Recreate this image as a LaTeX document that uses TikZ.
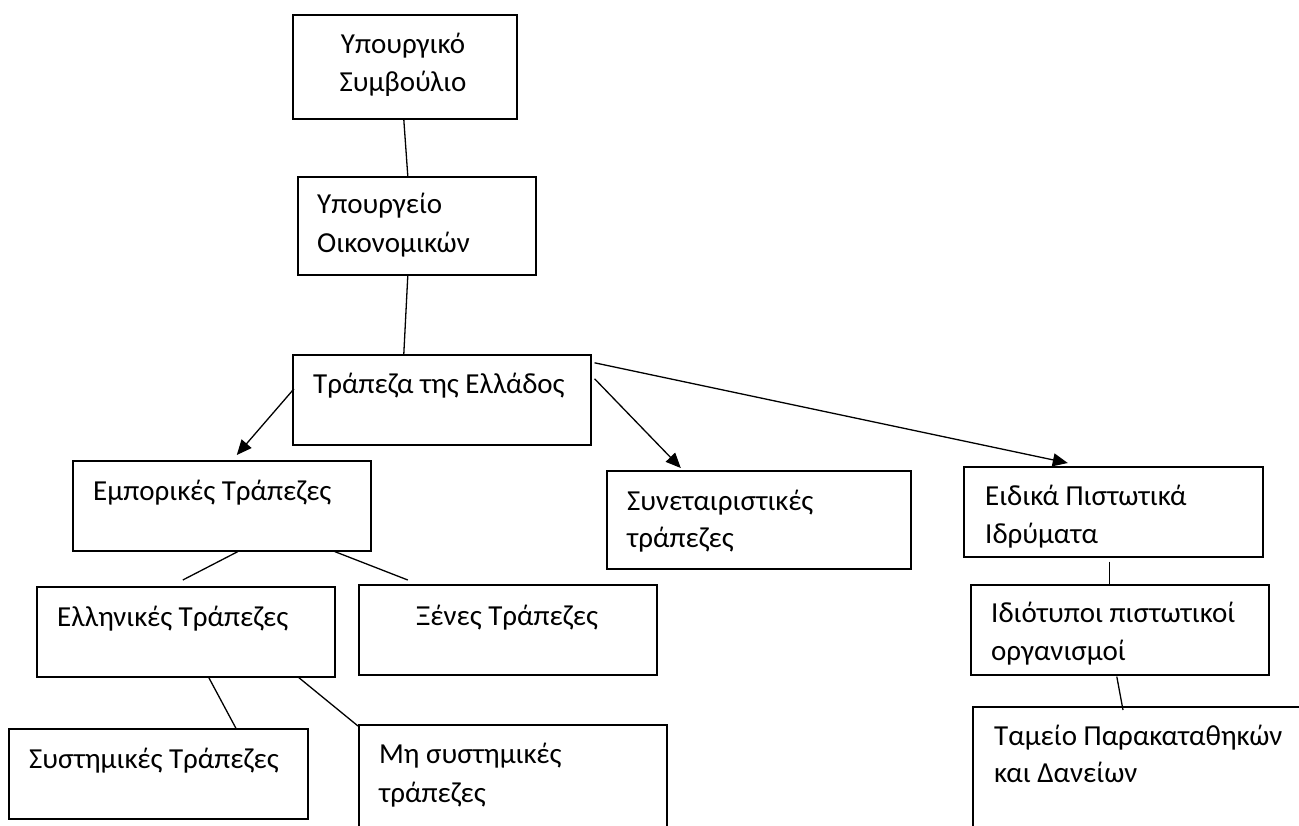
\documentclass[tikz,border=0pt]{standalone}
\usepackage{fontspec}
\setmainfont{Carlito}
\usetikzlibrary{calc,arrows.meta}
\begin{document}
\begin{tikzpicture}[x=1pt,y=-1pt,
  box/.style={draw=black,line width=1.6pt,fill=none,inner sep=0pt,anchor=north west},
  txt/.style={anchor=base west,inner sep=0pt,font=\fontsize{29}{38}\selectfont},
  ctxt/.style={anchor=base,inner sep=0pt,font=\fontsize{29}{38}\selectfont},
  link/.style={draw=black,line width=1.3pt},
  arr/.style={link,-{Triangle[length=15pt,width=13pt]}}]
\useasboundingbox (0,0) rectangle (1299,825);
\clip (0,0) rectangle (1299,825);
% boxes
\node[box,minimum width=224pt,minimum height=104pt] (b1) at (292,14) {};
\node[box,minimum width=238pt,minimum height=98pt] (b2) at (297,176) {};
\node[box,minimum width=298pt,minimum height=90pt] (b3) at (292,354) {};
\node[box,minimum width=298pt,minimum height=90pt] (b4) at (72,460) {};
\node[box,minimum width=298pt,minimum height=90pt] (b5) at (36,586) {};
\node[box,minimum width=298pt,minimum height=90pt] (b6) at (358,584) {};
\node[box,minimum width=299pt,minimum height=90pt] (b7) at (8,728) {};
\node[box,minimum width=308pt,minimum height=160pt] (b8) at (358,724) {};
\node[box,minimum width=304pt,minimum height=98pt] (b9) at (606,470) {};
\node[box,minimum width=299pt,minimum height=90pt] (b10) at (963,466) {};
\node[box,minimum width=298pt,minimum height=90pt] (b11) at (970,584) {};
\node[box,minimum width=360pt,minimum height=160pt] (b12) at (972,706) {};
% texts
\node[ctxt] (t1a) at (403,53) {Υπουργικό};
\node[ctxt] (t1b) at (403,91) {Συμβούλιο};
\node[txt] (t2a) at (317,213) {Υπουργείο};
\node[txt] (t2b) at (317,252) {Οικονομικών};
\node[txt] (t3) at (313,393) {Τράπεζα της Ελλάδος};
\node[txt] (t4) at (93,500) {Εμπορικές Τράπεζες};
\node[txt] (t5) at (57,626) {Ελληνικές Τράπεζες};
\node[ctxt] (t6) at (507,625) {Ξένες Τράπεζες};
\node[txt] (t7) at (29,768) {Συστημικές Τράπεζες};
\node[txt] (t8a) at (379,763) {Μη συστημικές};
\node[txt] (t8b) at (379,802) {τράπεζες};
\node[txt] (t9a) at (627,510) {Συνεταιριστικές};
\node[txt] (t9b) at (627,547) {τράπεζες};
\node[txt] (t10a) at (985,505) {Ειδικά Πιστωτικά};
\node[txt] (t10b) at (985,543) {Ιδρύματα};
\node[txt] (t11a) at (991,622) {Ιδιότυποι πιστωτικοί};
\node[txt] (t11b) at (991,660) {οργανισμοί};
\node[txt] (t12a) at (994,745) {Ταμείο Παρακαταθηκών};
\node[txt] (t12b) at (994,782) {και Δανείων};
% connectors
\draw[link] ($(b1.south)+(-1,0)$) -- ($(b2.north)+(-9,0)$);
\draw[link] ($(b2.south)+(-9,0)$) -- ($(b3.north)+(-38,0)$);
\draw[arr] ($(b3.west)+(2,-11)$) -- ($(b4.north)+(15,-5)$);
\draw[arr] ($(b3.east)+(3,-21)$) -- ($(b9.north)+(-78,-2)$);
\draw[arr] ($(b3.east)+(3,-37)$) -- ($(b10.north)+(-45.5,-3)$);
\draw[link] ($(b4.south)+(16,0)$) -- ($(b5.north)+(-3,-6)$);
\draw[link] ($(b4.south)+(113,0)$) -- ($(b6.north)+(-100,-4)$);
\draw[link] ($(b5.south)+(23,0)$) -- ($(b7.north)+(77.5,0)$);
\draw[link] ($(b5.south)+(113,0)$) -- ($(b8.north west)+(0,2)$);
\draw[link] ($(b10.south)+(-3.5,4)$) -- ($(b11.north)+(-10,0)$);
\draw[link] ($(b11.south)+(-3,1)$) -- ($(b12.north west)+(151,4)$);
\end{tikzpicture}
\end{document}
